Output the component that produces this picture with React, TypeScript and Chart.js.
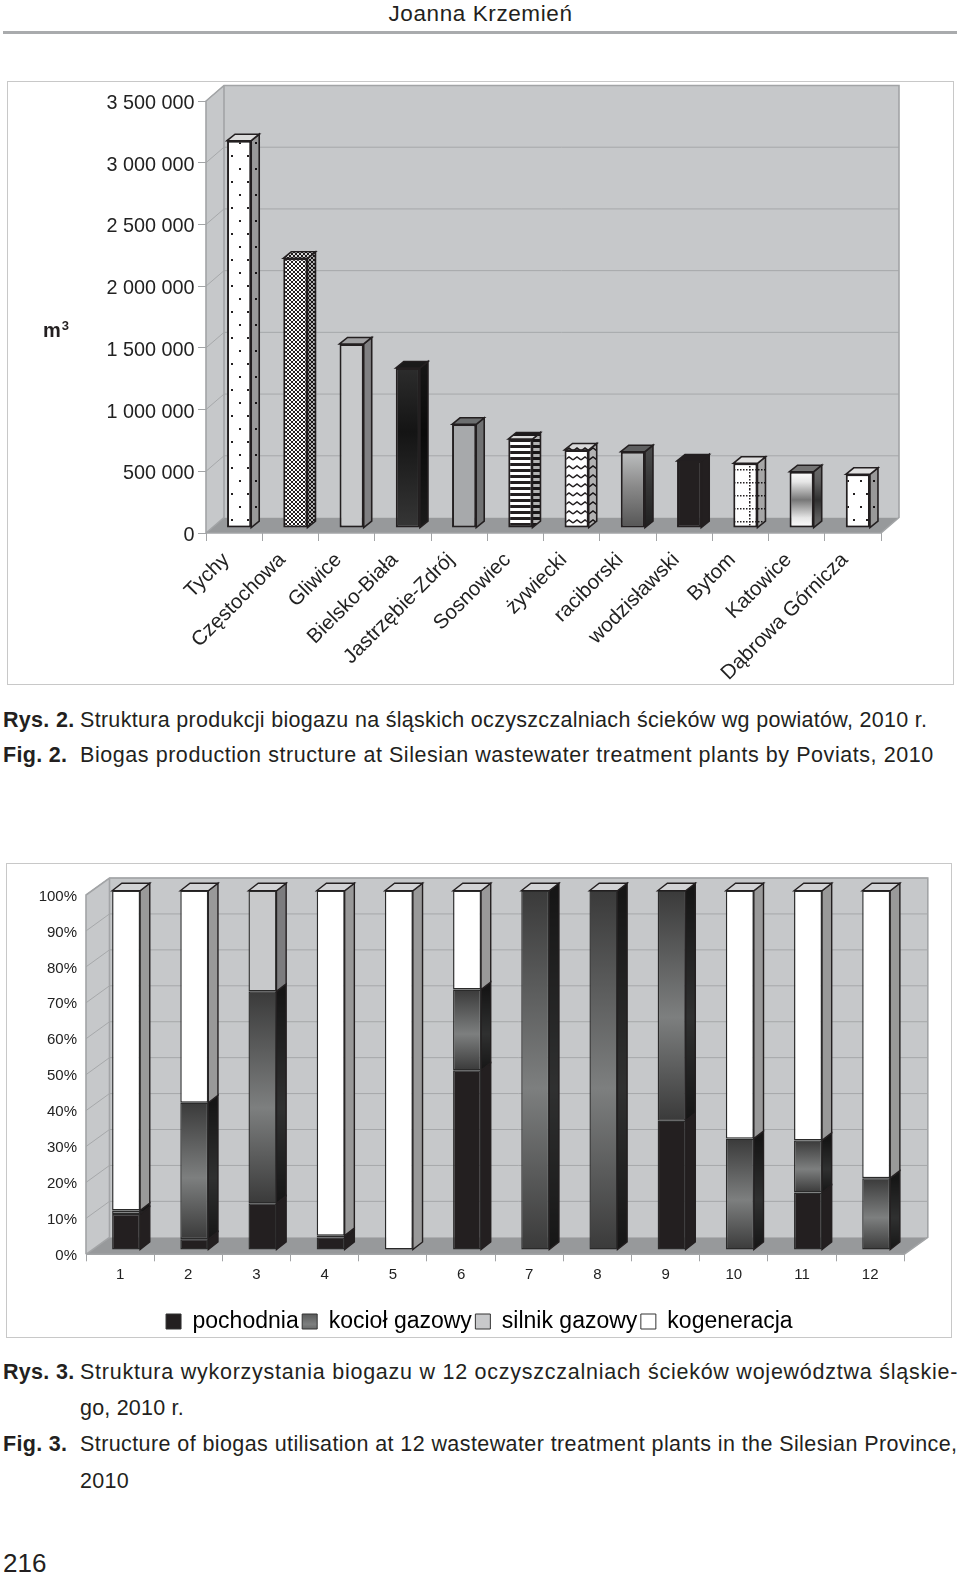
import React, { useEffect, useRef } from "react";
import { Chart, registerables } from "chart.js";

Chart.register(...registerables);

// ---------- data ----------
const regions = ["Tychy", "Częstochowa", "Gliwice", "Bielsko-Biała", "Jastrzębie-Zdrój", "Sosnowiec", "żywiecki", "raciborski", "wodzisławski", "Bytom", "Katowice", "Dąbrowa Górnicza"];
const production = [3138000, 2185000, 1491000, 1296000, 840000, 721000, 632000, 618000, 543000, 524000, 456000, 435000];

const plants = ["1", "2", "3", "4", "5", "6", "7", "8", "9", "10", "11", "12"];
const pochodnia = [10, 3, 13, 3.5, 0, 50, 0, 0, 36, 0, 16, 0];
const kociol = [1, 38, 59, 0.5, 0, 22.5, 100, 100, 64, 31, 14.5, 20];
const silnik = [0, 0, 28, 0, 0, 0, 0, 0, 0, 0, 0, 0];
const kogeneracja = [89, 59, 0, 96, 100, 27.5, 0, 0, 0, 69, 69.5, 80];

// ---------- geometry / styles ----------
const FONT = "'Liberation Sans', Arial, sans-serif";
const WALL = "#c6c8ca";
const FLOOR = "#97999b";
const GRID = "#a6a8aa";
const EDGE = "#a2a4a6";
const INK = "#231f20";

function tile(w: number, h: number, draw: (c: CanvasRenderingContext2D) => void) {
  const cv = document.createElement("canvas");
  cv.width = w;
  cv.height = h;
  const c = cv.getContext("2d")!;
  c.fillStyle = "#fff";
  c.fillRect(0, 0, w, h);
  c.fillStyle = INK;
  c.strokeStyle = INK;
  draw(c);
  return cv;
}
function dotPattern(ctx: CanvasRenderingContext2D, kind: string) {
  let cv: HTMLCanvasElement;
  if (kind === "dots") cv = tile(16, 26, (c) => { c.fillRect(2, 4, 2, 2); c.fillRect(10, 17, 2, 2); });
  else if (kind === "sparse") cv = tile(13, 26, (c) => { c.fillRect(3, 4, 2, 2); c.fillRect(10, 17, 2, 2); });
  else if (kind === "dense") cv = tile(4, 4, (c) => { c.fillRect(0, 0, 2, 2); c.fillRect(2, 2, 2, 2); });
  else if (kind === "stripes") cv = tile(4, 6, (c) => { c.fillRect(0, 0, 4, 3); });
  else if (kind === "wave") cv = tile(8, 9, (c) => {
    c.lineWidth = 1.5;
    c.beginPath();
    c.moveTo(0, 6); c.lineTo(4, 3); c.lineTo(8, 6);
    c.stroke();
  });
  else cv = tile(18, 13, (c) => {
    for (let i = 0; i < 18; i += 3) c.fillRect(i, 6, 1.5, 1.5);
    for (let i = 0; i < 13; i += 3) c.fillRect(6, i, 1.5, 1.5);
  });
  return ctx.createPattern(cv, "repeat")!;
}

type Depth = { wallX: number; wallY: number; shiftX: number; shiftY: number; sideX: number; sideY: number };

function drawWalls(chart: any, d: Depth, yScale: any) {
  const { ctx, chartArea: a } = chart;
  ctx.save();
  const bx = a.left + d.wallX;
  const by = a.bottom + d.wallY;
  const tx = a.top + d.wallY;
  // back wall
  ctx.fillStyle = WALL;
  ctx.fillRect(bx, tx, a.right + d.wallX - bx, by - tx);
  // left wall
  ctx.beginPath();
  ctx.moveTo(a.left, a.top); ctx.lineTo(bx, tx); ctx.lineTo(bx, by); ctx.lineTo(a.left, a.bottom);
  ctx.closePath();
  ctx.fill();
  // floor
  ctx.fillStyle = FLOOR;
  ctx.beginPath();
  ctx.moveTo(a.left, a.bottom); ctx.lineTo(bx, by); ctx.lineTo(a.right + d.wallX, by); ctx.lineTo(a.right, a.bottom);
  ctx.closePath();
  ctx.fill();
  // grid lines
  ctx.strokeStyle = GRID;
  ctx.lineWidth = 1;
  yScale.ticks.forEach((t: any) => {
    const y = yScale.getPixelForValue(t.value);
    if (t.value === yScale.min) return;
    ctx.beginPath();
    ctx.moveTo(a.left, y); ctx.lineTo(bx, y + d.wallY); ctx.lineTo(a.right + d.wallX, y + d.wallY);
    ctx.stroke();
  });
  // edges
  ctx.strokeStyle = EDGE;
  ctx.lineWidth = 1.6;
  ctx.beginPath();
  ctx.moveTo(a.left, a.bottom); ctx.lineTo(a.left, a.top); ctx.lineTo(bx, tx); ctx.lineTo(a.right + d.wallX, tx);
  ctx.lineTo(a.right + d.wallX, by); ctx.lineTo(a.right, a.bottom); ctx.lineTo(a.left, a.bottom);
  ctx.moveTo(bx, tx); ctx.lineTo(bx, by); ctx.lineTo(a.left, a.bottom);
  ctx.stroke();
  ctx.restore();
}

function shade(ctx: CanvasRenderingContext2D, path: () => void, fill: any, alpha: number, stroke: string, lw: number) {
  path();
  ctx.fillStyle = fill;
  ctx.fill();
  if (alpha > 0) {
    path();
    ctx.fillStyle = `rgba(0,0,0,${alpha})`;
    ctx.fill();
  }
  path();
  ctx.strokeStyle = stroke;
  ctx.lineWidth = lw;
  ctx.stroke();
}

function depthPlugin(d: Depth, sideAlpha: (ds: number, i: number) => number, topFill: (ds: number, i: number, base: any) => { fill: any; alpha: number }, lw: number, legendShift = 0) {
  return {
    id: "depth3d",
    afterLayout(chart: any) {
      if (legendShift && chart.legend) {
        chart.legend.left += legendShift;
        chart.legend.right += legendShift;
      }
    },
    beforeDraw(chart: any) {
      drawWalls(chart, d, chart.scales.y);
    },
    beforeDatasetsDraw(chart: any) {
      const { ctx } = chart;
      ctx.save();
      ctx.translate(d.shiftX, d.shiftY);
      const count = chart.data.labels.length;
      const n = chart.data.datasets.length;
      for (let ds = 0; ds < n; ds++) {
        chart.getDatasetMeta(ds).data.forEach((el: any, i: number) => {
          const top = el.y;
          const bot = el.base;
          if (Math.abs(bot - top) < 0.01) return;
          const right = el.x + el.width / 2;
          shade(ctx, () => {
            ctx.beginPath();
            ctx.moveTo(right, top); ctx.lineTo(right + d.sideX, top + d.sideY);
            ctx.lineTo(right + d.sideX, bot + d.sideY); ctx.lineTo(right, bot);
            ctx.closePath();
          }, el.options.backgroundColor, sideAlpha(ds, i), INK, lw);
        });
      }
      for (let i = 0; i < count; i++) {
        let best: any = null;
        let bestDs = 0;
        for (let ds = 0; ds < n; ds++) {
          const el = chart.getDatasetMeta(ds).data[i];
          if (Math.abs(el.base - el.y) < 0.01) continue;
          if (!best || el.y < best.y) { best = el; bestDs = ds; }
        }
        if (!best) continue;
        const l = best.x - best.width / 2;
        const r = best.x + best.width / 2;
        const y = best.y;
        const t = topFill(bestDs, i, best.options.backgroundColor);
        shade(ctx, () => {
          ctx.beginPath();
          ctx.moveTo(l, y); ctx.lineTo(l + d.sideX, y + d.sideY);
          ctx.lineTo(r + d.sideX, y + d.sideY); ctx.lineTo(r, y);
          ctx.closePath();
        }, t.fill, t.alpha, INK, lw);
      }
    },
    afterDatasetsDraw(chart: any) {
      chart.ctx.restore();
    },
  };
}

function grad(ctx: CanvasRenderingContext2D, y0: number, y1: number, stops: [number, string][]) {
  const g = ctx.createLinearGradient(0, y0, 0, y1);
  stops.forEach(([o, c]) => g.addColorStop(o, c));
  return g;
}

const fmtThousands = (v: number) => String(v).replace(/\B(?=(\d{3})+$)/g, " ");

function makeChart1(canvas: HTMLCanvasElement) {
  const c = canvas.getContext("2d")!;
  const patterns: Record<string, any> = {};
  ["dots", "sparse", "dense", "stripes", "wave", "grid"].forEach((k) => (patterns[k] = dotPattern(c, k)));
  const styleFor = (ctx: any) => {
    const i = ctx.dataIndex;
    const y = ctx.chart.scales.y;
    const top = y.getPixelForValue(production[i] ?? 0);
    const bot = y.getPixelForValue(0);
    switch (i) {
      case 0: return patterns.dots;
      case 1: return patterns.dense;
      case 2: return "#c8c9cb";
      case 3: return grad(c, top, bot, [[0, "#2c2c2c"], [0.4, "#141414"], [1, "#363636"]]);
      case 4: return "#a7a9ab";
      case 5: return patterns.stripes;
      case 6: return patterns.wave;
      case 7: return grad(c, top, bot, [[0, "#bdbfc0"], [0.45, "#8a8a8a"], [1, "#555555"]]);
      case 8: return INK;
      case 9: return patterns.grid;
      case 10: return grad(c, top, bot, [[0, "#ffffff"], [0.18, "#e6e6e6"], [0.5, "#777777"], [0.82, "#e6e6e6"], [1, "#ffffff"]]);
      default: return patterns.sparse;
    }
  };
  const sideA = [0.4, 0.3, 0.36, 0.5, 0.33, 0.3, 0.3, 0.62, 0, 0.35, 0.6, 0.4];
  const topA = [0.14, 0.15, 0.2, 0.4, 0.35, 0.15, 0.15, 0.5, 0, 0.12, 0.55, 0.12];
  const depth: Depth = { wallX: 18, wallY: -15.5, shiftX: 5, shiftY: -5, sideX: 8, sideY: -6.5 };
  return new Chart(canvas, {
    type: "bar",
    data: {
      labels: regions,
      datasets: [{
        label: "m3",
        data: production,
        backgroundColor: styleFor,
        borderColor: INK,
        borderWidth: 2,
        borderSkipped: false,
        inflateAmount: 0,
        barPercentage: 0.43,
        categoryPercentage: 1,
        clip: false,
      } as any],
    },
    options: {
      responsive: false,
      animation: false,
      layout: { padding: { left: 0, top: 101, right: 79, bottom: 0 } },
      plugins: { legend: { display: false }, tooltip: { enabled: false } },
      scales: {
        x: {
          offset: true,
          afterFit: (s: any) => { s.height = 167; },
          grid: { drawOnChartArea: false, drawTicks: true, tickLength: 8, color: EDGE, offset: true },
          border: { display: false },
          ticks: { autoSkip: false, minRotation: 45, maxRotation: 45, padding: 7, labelOffset: -8, color: "#222", font: { family: FONT, size: 20.5 } },
        },
        y: {
          min: 0,
          max: 3500000,
          afterFit: (s: any) => { s.width = 206; },
          grid: { drawOnChartArea: false, drawTicks: true, tickLength: 8, color: EDGE },
          border: { display: false },
          ticks: { stepSize: 500000, padding: 3.5, labelOffset: 2.5, color: "#222", font: { family: FONT, size: 19.8 }, callback: (v: any) => fmtThousands(Number(v)) },
        },
      },
    },
    plugins: [depthPlugin(depth, (_, i) => sideA[i], (_, i, base) => ({ fill: i === 0 || i === 9 || i === 11 ? "#fff" : base, alpha: topA[i] }), 1.6)],
  } as any);
}

function makeChart2(canvas: HTMLCanvasElement) {
  const c = canvas.getContext("2d")!;
  const KOCIOL_STOPS: [number, string][] = [[0, "#3a3a3a"], [0.55, "#7d7f7f"], [1, "#3a3a3a"]];
  const series = [pochodnia, kociol, silnik, kogeneracja];
  const kociolFill = (ctx: any) => {
    const i = ctx.dataIndex;
    const y = ctx.chart.scales.y;
    const start = pochodnia[i] ?? 0;
    return grad(c, y.getPixelForValue(start + (kociol[i] ?? 0)), y.getPixelForValue(start), KOCIOL_STOPS);
  };
  const fills: any[] = [INK, kociolFill, "#c8c9cb", "#ffffff"];
  const names = ["pochodnia", "kocioł gazowy", "silnik gazowy", "kogeneracja"];
  const sideAlpha = [0, 0.62, 0.38, 0.4];
  const depth: Depth = { wallX: 23.5, wallY: -17, shiftX: 6, shiftY: -4.3, sideX: 9.7, sideY: -7.5 };
  return new Chart(canvas, {
    type: "bar",
    data: {
      labels: plants,
      datasets: series.map((data, k) => ({
        label: names[k],
        data,
        backgroundColor: fills[k],
        borderColor: "#2a2a2a",
        borderWidth: 1.4,
        borderSkipped: false,
        inflateAmount: 0,
        barPercentage: 0.41,
        categoryPercentage: 1,
        clip: false,
      })),
    },
    options: {
      responsive: false,
      animation: false,
      layout: { padding: { left: 0, top: 45, right: 55.7, bottom: 2 } },
      plugins: {
        tooltip: { enabled: false },
        legend: {
          position: "bottom",
          labels: {
            boxWidth: 15,
            boxHeight: 15,
            padding: 3.5,
            color: "#222",
            font: { family: FONT, size: 23 },
            generateLabels: () =>
              names.map((text, k) => ({
                text,
                fillStyle: k === 1 ? grad(c, 455, 490, KOCIOL_STOPS) : fills[k],
                strokeStyle: "#333",
                lineWidth: 1,
                datasetIndex: k,
              })),
          },
        },
      },
      scales: {
        x: {
          stacked: true,
          offset: true,
          afterFit: (s: any) => { s.height = 52.2; },
          grid: { drawOnChartArea: false, drawTicks: true, tickLength: 7, color: EDGE, offset: true },
          border: { display: false },
          ticks: { autoSkip: false, maxRotation: 0, padding: 5, color: "#222", font: { family: FONT, size: 15 } },
        },
        y: {
          stacked: true,
          min: 0,
          max: 100,
          afterFit: (s: any) => { s.width = 86; },
          grid: { drawOnChartArea: false, drawTicks: false },
          border: { display: false },
          ticks: { stepSize: 10, padding: 9, labelOffset: 1.5, color: "#222", font: { family: FONT, size: 15 }, callback: (v: any) => `${v}%` },
        },
      },
    },
    plugins: [depthPlugin(depth, (ds) => sideAlpha[ds], () => ({ fill: "#d2d3d5", alpha: 0 }), 1.4, 27.2)],
  } as any);
}

const abs = (left: number, top: number, extra: React.CSSProperties = {}): React.CSSProperties => ({
  position: "absolute", left, top, whiteSpace: "nowrap", fontFamily: FONT, color: "#231f20", ...extra,
});

function Caption({ label, text, y, spacing }: { label?: string; text: string; y: number; spacing: number }) {
  const st = { fontSize: 21.5, lineHeight: "24px" };
  return (
    <>
      {label && <span style={abs(3, y - 12, { ...st, fontWeight: "bold", letterSpacing: 0.3 })}>{label}</span>}
      <span style={abs(80, y - 12, { ...st, letterSpacing: spacing })}>{text}</span>
    </>
  );
}

export default function App() {
  const a = useRef<HTMLCanvasElement>(null);
  const b = useRef<HTMLCanvasElement>(null);
  useEffect(() => {
    const c1 = makeChart1(a.current!);
    const c2 = makeChart2(b.current!);
    return () => { c1.destroy(); c2.destroy(); };
  }, []);
  return (
    <div style={{ position: "absolute", left: 0, top: 0, width: 960, height: 1577, overflow: "hidden", background: "#fff" }}>
      <span style={abs(0, 1, { width: 961, textAlign: "center", fontSize: 22.5, lineHeight: "26px", letterSpacing: 0.6 })}>Joanna Krzemień</span>
      <div style={{ position: "absolute", left: 3, top: 31, width: 954, height: 3, background: "#a9abad" }} />
      <div style={{ position: "absolute", left: 7, top: 81, width: 947, height: 604, boxSizing: "border-box", border: "1.5px solid #c8c8c8" }} />
      <div style={{ position: "absolute", left: 6, top: 863, width: 946, height: 475, boxSizing: "border-box", border: "1.5px solid #c8c8c8" }} />
      <canvas ref={a} width={960} height={700} style={{ position: "absolute", left: 0, top: 0 }} />
      <canvas ref={b} width={960} height={495} style={{ position: "absolute", left: 0, top: 850 }} />
      <span style={abs(43, 318, { fontSize: 20, fontWeight: "bold", lineHeight: "24px" })}>
        m<sup style={{ fontSize: 13, verticalAlign: 7, lineHeight: 0, marginLeft: 1 }}>3</sup>
      </span>
      <Caption label="Rys. 2." text="Struktura produkcji biogazu na śląskich oczyszczalniach ścieków wg powiatów, 2010 r." y={720} spacing={0.3} />
      <Caption label="Fig. 2." text="Biogas production structure at Silesian wastewater treatment plants by Poviats, 2010" y={755} spacing={0.56} />
      <Caption label="Rys. 3." text="Struktura wykorzystania biogazu w 12 oczyszczalniach ścieków województwa śląskie-" y={1372} spacing={0.75} />
      <Caption text="go, 2010 r." y={1408} spacing={0.2} />
      <Caption label="Fig. 3." text="Structure of biogas utilisation at 12 wastewater treatment plants in the Silesian Province," y={1444} spacing={0.41} />
      <Caption text="2010" y={1481} spacing={0.3} />
      <span style={abs(3, 1548, { fontSize: 26, lineHeight: "30px" })}>216</span>
    </div>
  );
}
